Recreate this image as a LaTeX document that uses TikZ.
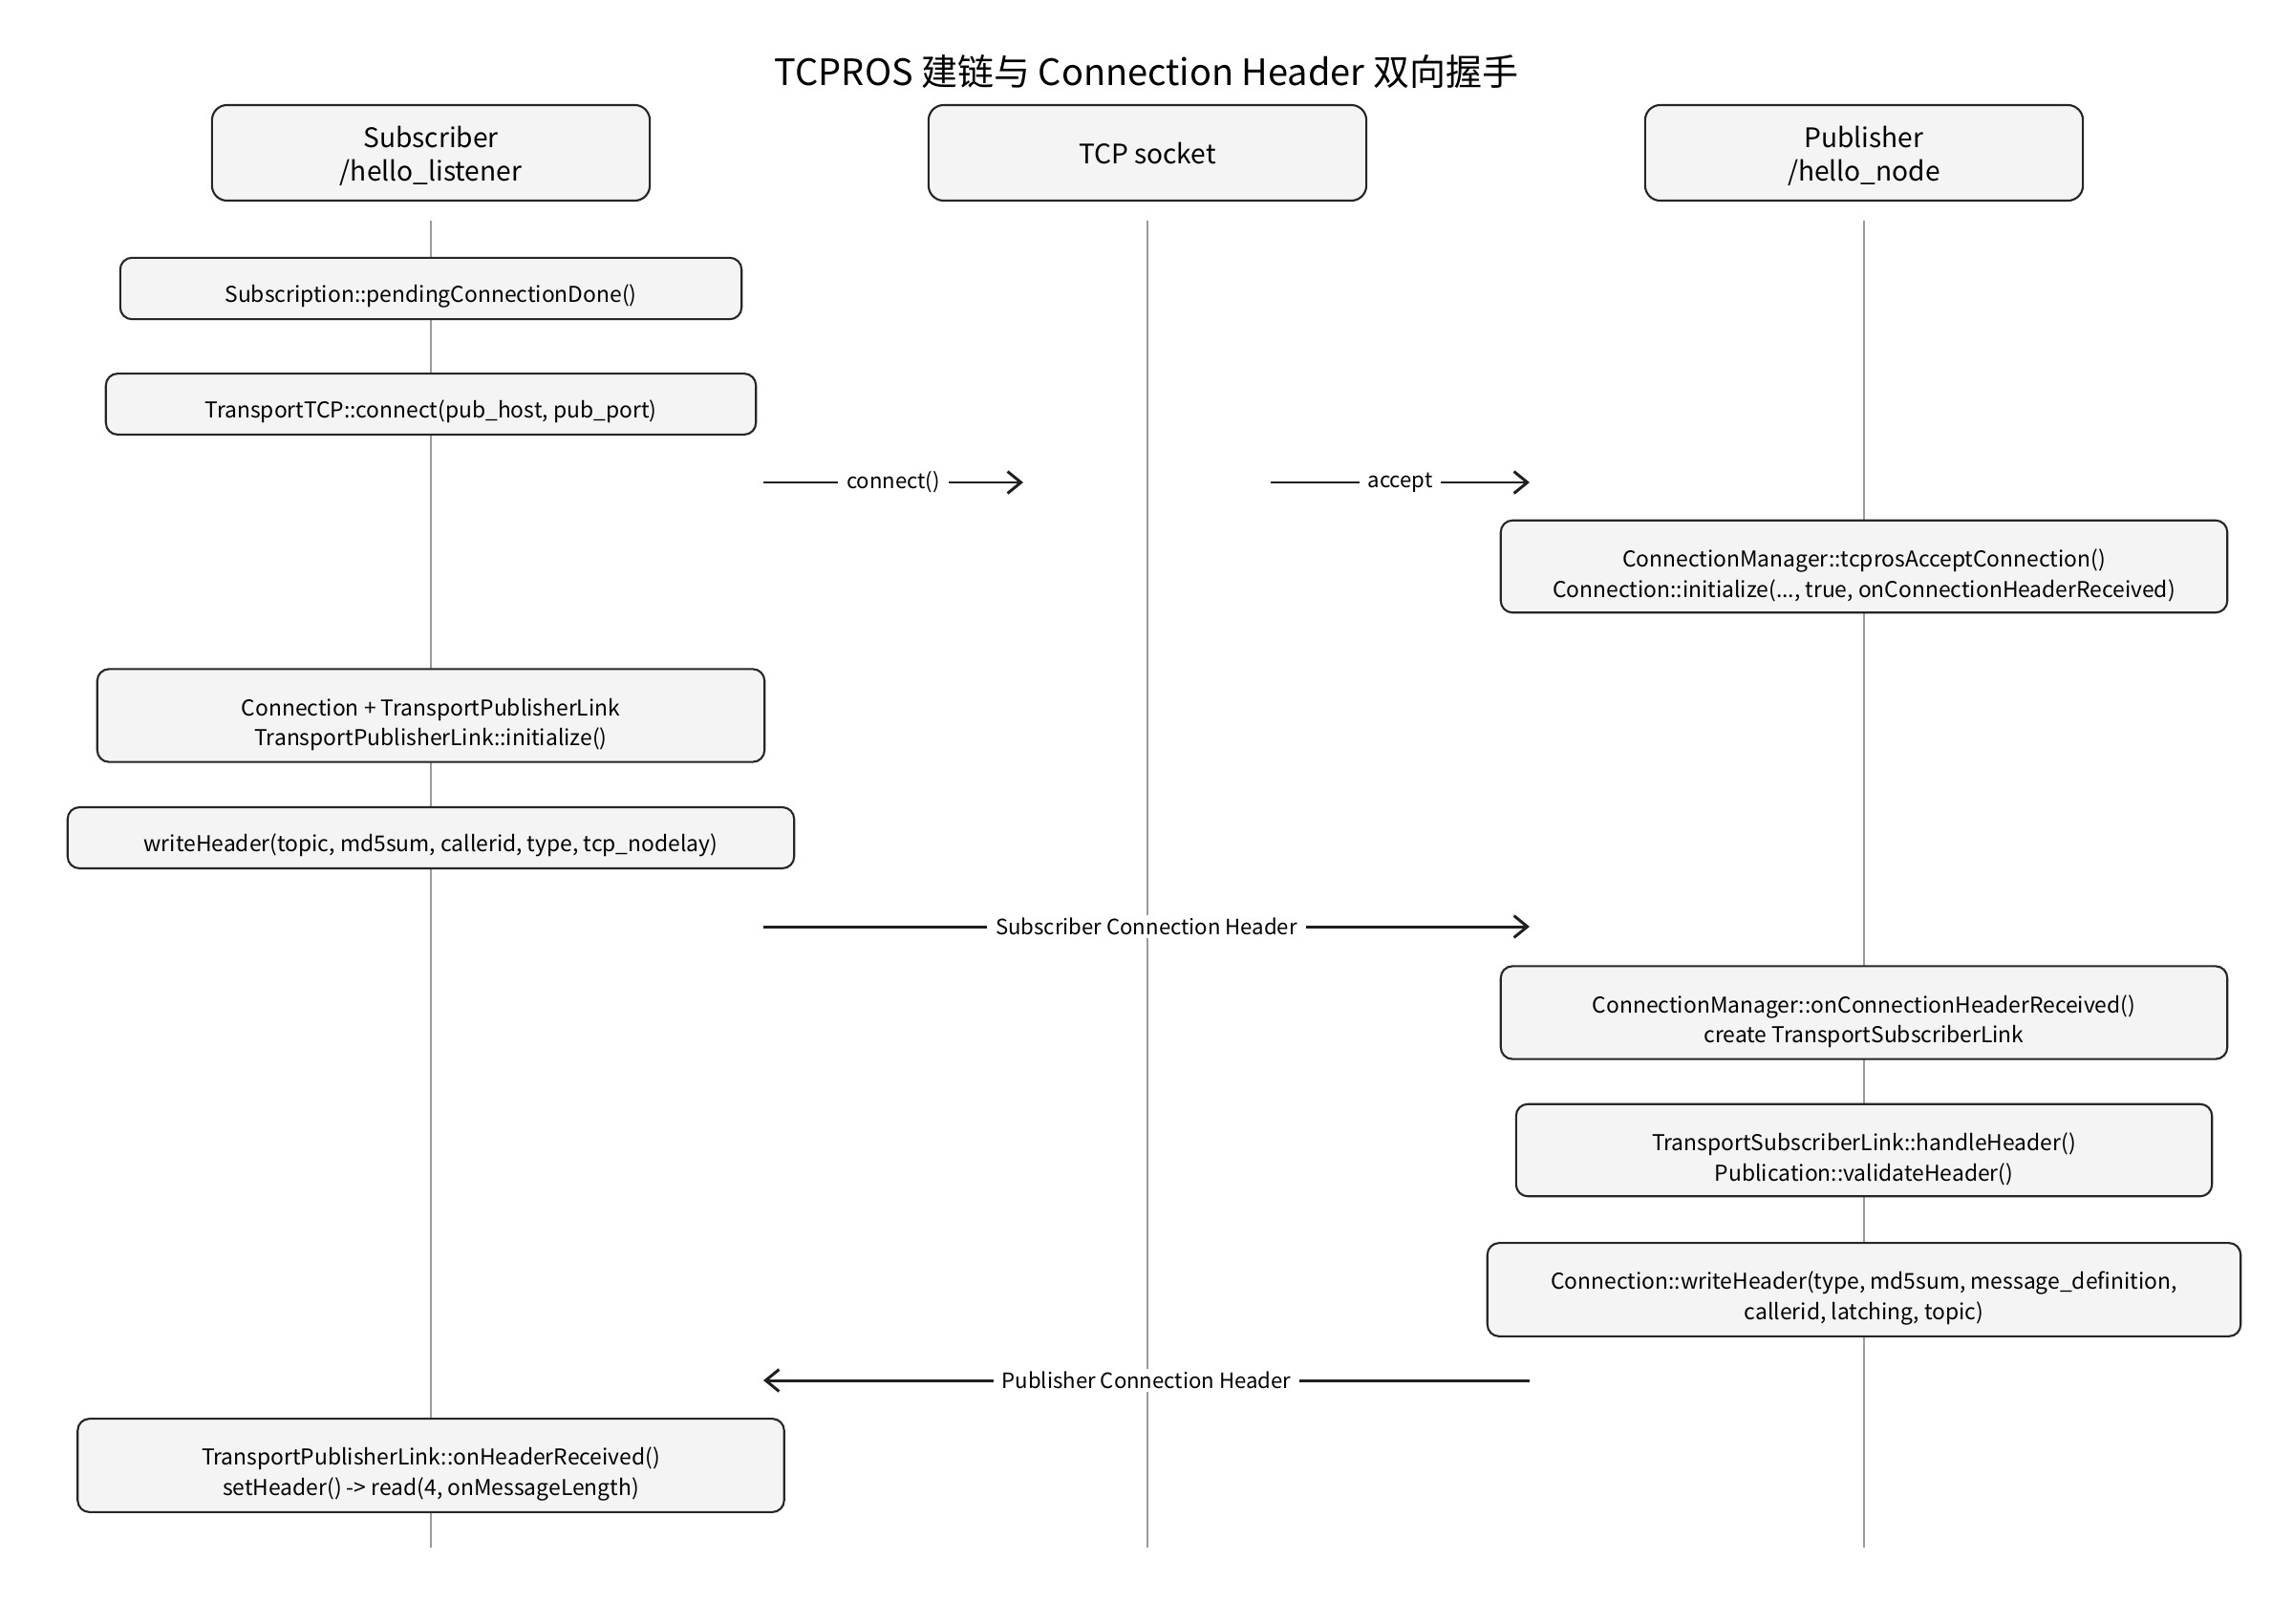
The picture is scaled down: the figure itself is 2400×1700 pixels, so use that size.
\documentclass[tikz,border=0pt]{standalone}
\usepackage{fontspec}
\setmainfont{Noto Sans CJK SC}
\usetikzlibrary{arrows.meta, positioning, calc}
\definecolor{boxfill}{HTML}{F4F4F4}
\definecolor{lifegray}{HTML}{9A9A9A}

\begin{document}
\begin{tikzpicture}[
        x=0.01cm, y=-0.01cm,
        actor/.style={rectangle, draw=black!85, line width=0.6pt, rounded corners=4.5pt, fill=boxfill, minimum width=4.58cm, minimum height=1cm, align=center, font=\fontsize{8}{9.9}\selectfont},
        actortwo/.style={actor, text height=18.2pt},
        box/.style={rectangle, draw=black!85, line width=0.6pt, rounded corners=3.5pt, fill=boxfill, minimum height=0.63cm, align=center, font=\fontsize{6.5}{9}\selectfont},
        onebox/.style={box, execute at begin node={\rule{0pt}{10pt}}},
        twoline/.style={box, minimum height=0.96cm, text height=19.5pt},
        life/.style={draw=lifegray, line width=0.5pt},
        msg/.style={-{Straight Barb[length=4pt, width=6.5pt]}, line width=0.85pt, draw=black!88},
        lbl/.style={fill=white, text=black, inner xsep=2.5pt, inner ysep=1pt, font=\fontsize{6.3}{7.5}\selectfont}
    ]

        \fill [white] (0,0) rectangle (2400,1700);
        \useasboundingbox (0,0) rectangle (2400,1700);

        % 1. Title and participants
        \node (title) at (1200,75) {\fontsize{10.8}{13}\selectfont TCPROS 建链与 Connection Header 双向握手};
        \node (sub) [actortwo] at (451,160) {Subscriber\\/hello\_listener};
        \node (tcp) [actor] at (1201,160) {TCP socket};
        \node (pub) [actortwo] at (1951,160) {Publisher\\/hello\_node};

        % Lifelines
        \coordinate (subend) at (451,1620);
        \coordinate (tcpend) at (1201,1620);
        \coordinate (pubend) at (1951,1620);
        \draw [life] (sub.south) ++(0,20) -- (subend);
        \draw [life] (tcp.south) ++(0,20) -- (tcpend);
        \draw [life] (pub.south) ++(0,20) -- (pubend);

        % 2. Subscriber side: connect
        \node (pending) [onebox, minimum width=6.5cm] at (451,302) {Subscription::pendingConnectionDone()};
        \node (connect) [onebox, minimum width=6.8cm] at (451,423) {TransportTCP::connect(pub\_host, pub\_port)};

        % 3. TCP connect / accept
        \coordinate (conna) at (799,505);
        \coordinate (connb) at (1071,505);
        \coordinate (acca) at (1330,505);
        \coordinate (accb) at (1601,505);
        \draw [msg] (conna) -- node [lbl] {connect()} (connb);
        \draw [msg] (acca) -- node [lbl] {accept} (accb);

        \node (accept) [twoline, minimum width=7.6cm] at (1951,593) {ConnectionManager::tcprosAcceptConnection()\\Connection::initialize(..., true, onConnectionHeaderReceived)};

        % 4. Subscriber writes its header
        \node (link) [twoline, minimum width=6.98cm] at (451,749) {Connection + TransportPublisherLink\\TransportPublisherLink::initialize()};
        \node (subhdr) [onebox, minimum width=7.6cm] at (451,877) {writeHeader(topic, md5sum, callerid, type, tcp\_nodelay)};

        \coordinate (sha) at (799,970);
        \coordinate (shb) at (1601,970);
        \draw [msg] (sha) -- node [lbl] {Subscriber Connection Header} (shb);

        % 5. Publisher handles header and answers
        \node (onhdr) [twoline, minimum width=7.6cm] at (1951,1060) {ConnectionManager::onConnectionHeaderReceived()\\create TransportSubscriberLink};
        \node (handle) [twoline, minimum width=7.28cm] at (1951,1204) {TransportSubscriberLink::handleHeader()\\Publication::validateHeader()};
        \node (pubhdr) [twoline, minimum width=7.88cm] at (1951,1350) {Connection::writeHeader(type, md5sum, message\_definition,\\callerid, latching, topic)};

        \coordinate (pha) at (1601,1445);
        \coordinate (phb) at (799,1445);
        \draw [msg] (pha) -- node [lbl] {Publisher Connection Header} (phb);

        % 6. Subscriber receives header
        \node (recv) [twoline, minimum width=7.39cm] at (451,1534) {TransportPublisherLink::onHeaderReceived()\\setHeader() -> read(4, onMessageLength)};
    \end{tikzpicture}
\end{document}
